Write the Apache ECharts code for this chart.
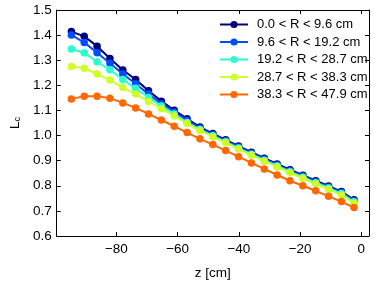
<!DOCTYPE html>
<html>
<head>
<meta charset="utf-8">
<script src="https://cdn.jsdelivr.net/npm/echarts@6/dist/echarts.min.js"></script>
<style>html,body{margin:0;padding:0;background:#fff}#c{width:374px;height:285px}</style>
</head>
<body>
<div id="c"></div>
<script>
const zValues = [-94.7, -90.5, -86.3, -82.1, -77.9, -73.7, -69.5, -65.3, -61.1, -56.9, -52.7, -48.5, -44.3, -40.1, -35.9, -31.7, -27.5, -23.3, -19.1, -14.9, -10.7, -6.5, -2.4];
const seriesNames = ['0.0 < R < 9.6 cm', '9.6 < R < 19.2 cm', '19.2 < R < 28.7 cm', '28.7 < R < 38.3 cm', '38.3 < R < 47.9 cm'];
const r0 = [1.414, 1.395, 1.356, 1.307, 1.261, 1.223, 1.178, 1.137, 1.101, 1.067, 1.034, 1.008, 0.983, 0.958, 0.934, 0.910, 0.887, 0.864, 0.842, 0.820, 0.799, 0.777, 0.744];
const r1 = [1.400, 1.371, 1.330, 1.288, 1.245, 1.206, 1.165, 1.126, 1.094, 1.060, 1.029, 1.004, 0.979, 0.954, 0.930, 0.906, 0.883, 0.860, 0.838, 0.816, 0.795, 0.773, 0.740];
const r2 = [1.345, 1.330, 1.294, 1.262, 1.223, 1.188, 1.152, 1.118, 1.086, 1.052, 1.024, 0.999, 0.975, 0.950, 0.926, 0.902, 0.879, 0.856, 0.834, 0.812, 0.791, 0.769, 0.736];
const r3 = [1.275, 1.268, 1.245, 1.221, 1.191, 1.165, 1.136, 1.107, 1.078, 1.048, 1.020, 0.995, 0.971, 0.946, 0.922, 0.898, 0.875, 0.852, 0.830, 0.808, 0.786, 0.763, 0.731];
const r4 = [1.146, 1.157, 1.157, 1.149, 1.130, 1.110, 1.086, 1.062, 1.037, 1.012, 0.987, 0.964, 0.940, 0.916, 0.891, 0.867, 0.843, 0.820, 0.800, 0.780, 0.758, 0.737, 0.713];
const colors = ['#00007f', '#004cff', '#29ffce', '#ceff29', '#ff6800'];
const xTicks = [-80, -60, -40, -20, 0];
const yTicks = [0.6, 0.7, 0.8, 0.9, 1.0, 1.1, 1.2, 1.3, 1.4, 1.5];

const FONT = '"Liberation Sans", Arial, Helvetica, sans-serif';
const allData = [r0, r1, r2, r3, r4];
const chart = echarts.init(document.getElementById('c'), null, {renderer: 'canvas'});
const minus = v => (v < 0 ? '\u2212' + (-v) : String(v));
const spine = {show: true, onZero: false, lineStyle: {color: '#000', width: 1}};
const tickIn = {show: true, inside: true, length: 4, lineStyle: {color: '#000', width: 1}};
chart.setOption({
  animation: false,
  backgroundColor: '#fff',
  color: colors,
  grid: {left: 50, right: 5, top: 10, bottom: 42, containLabel: false},
  legend: {
    orient: 'vertical', left: 219, top: 18, padding: 0,
    itemWidth: 28, itemHeight: 9, itemGap: 4.5,
    textStyle: {fontFamily: FONT, fontSize: 13, color: '#000', lineHeight: 13, padding: [0, 0, 0, 4]},
    data: seriesNames
  },
  xAxis: [{
    type: 'value', min: -99.5, max: 2.5, position: 'bottom',
    axisLine: spine,
    axisTick: Object.assign({customValues: xTicks}, tickIn),
    axisLabel: {customValues: xTicks, formatter: minus, fontFamily: FONT, fontSize: 13.5, color: '#000', margin: 6},
    splitLine: {show: false},
    name: 'z [cm]', nameLocation: 'middle', nameGap: 30,
    nameTextStyle: {fontFamily: FONT, fontSize: 13.5, color: '#000'}
  }, {
    type: 'value', min: -99.5, max: 2.5, position: 'top',
    axisLine: spine,
    axisTick: Object.assign({customValues: xTicks}, tickIn),
    axisLabel: {show: false},
    splitLine: {show: false}
  }],
  yAxis: [{
    type: 'value', min: 0.6, max: 1.5, interval: 0.1, position: 'left',
    axisLine: spine, axisTick: tickIn,
    axisLabel: {formatter: v => v.toFixed(1), fontFamily: FONT, fontSize: 13.5, color: '#000', margin: 5},
    splitLine: {show: false},
    name: '{a|L}{b|c}', nameLocation: 'middle', nameGap: 34, nameRotate: 90,
    nameTextStyle: {
      fontFamily: FONT, color: '#000',
      rich: {
        a: {fontFamily: FONT, fontSize: 13.5, color: '#000', verticalAlign: 'bottom', lineHeight: 16},
        b: {fontFamily: FONT, fontSize: 9, color: '#000', verticalAlign: 'bottom', lineHeight: 12}
      }
    }
  }, {
    type: 'value', min: 0.6, max: 1.5, interval: 0.1, position: 'right',
    axisLine: spine, axisTick: tickIn,
    axisLabel: {show: false}, splitLine: {show: false}
  }],
  series: seriesNames.map((n, i) => ({
    name: n, type: 'line', xAxisIndex: 0, yAxisIndex: 0,
    data: zValues.map((z, k) => [z, allData[i][k]]),
    symbol: 'circle', symbolSize: 7.5, showSymbol: true,
    lineStyle: {width: 2, color: colors[i]},
    itemStyle: {color: colors[i], borderWidth: 0},
    z: 2 + i
  }))
});
</script>
</body>
</html>
